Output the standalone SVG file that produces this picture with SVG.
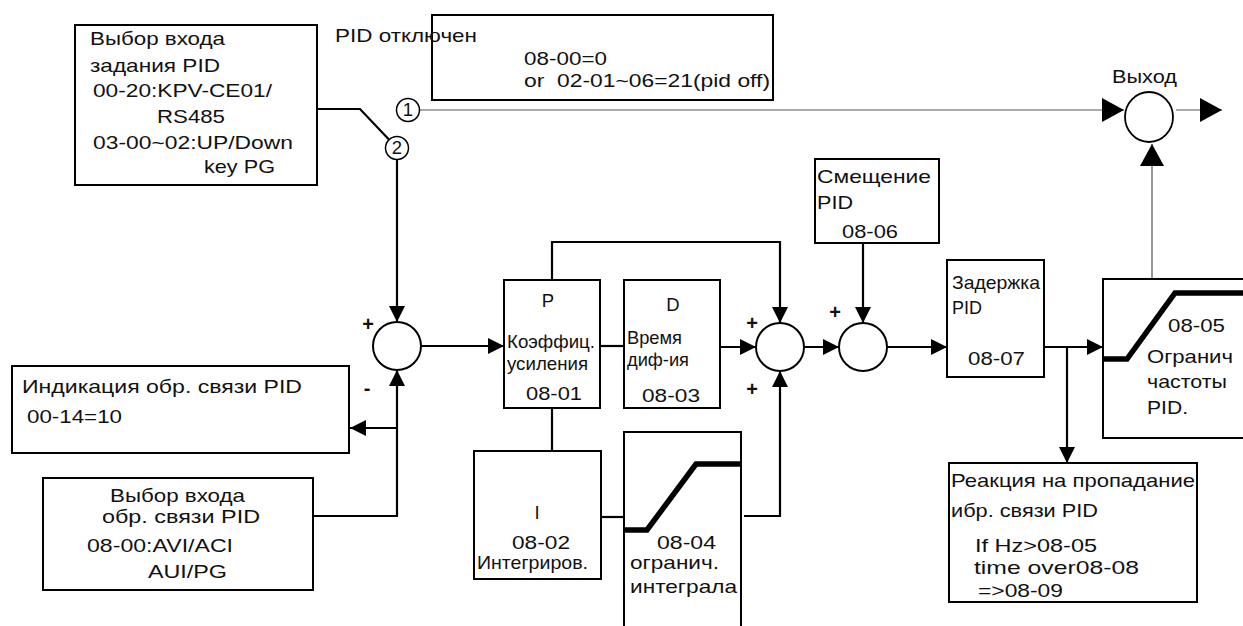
<svg xmlns="http://www.w3.org/2000/svg" width="1243" height="626" viewBox="0 0 1243 626">
<defs>
<marker id="arr" markerUnits="userSpaceOnUse" markerWidth="16" markerHeight="16" refX="16" refY="8" orient="auto"><path d="M0,0 L16,8 L0,16 z" fill="#000"/></marker>
<marker id="arrBig" markerUnits="userSpaceOnUse" markerWidth="22" markerHeight="24" refX="22" refY="12" orient="auto"><path d="M0,0 L22,12 L0,24 z" fill="#000"/></marker>
</defs>
<style>
text{font-family:"Liberation Sans",Arial,sans-serif;fill:#111;font-size:18.5px}
.box{fill:#fff;stroke:#000;stroke-width:2}
.c{fill:#fff;stroke:#000;stroke-width:2}
.w{fill:none;stroke:#000;stroke-width:2.2}
.thin{fill:none;stroke:#555;stroke-width:1.2}
.curve{fill:none;stroke:#000;stroke-width:5.5}
.sign{font-weight:bold;font-size:20px}
.mid{text-anchor:middle}
</style>
<rect width="1243" height="626" fill="#fff"/>

<g id="connectors">
<polyline class="w" points="317,109 360,109 388.7,139.3"/>
<line class="w" x1="397" y1="160" x2="397" y2="322" marker-end="url(#arr)"/>
<line class="w" x1="421" y1="346" x2="504" y2="346" marker-end="url(#arr)"/>
<polyline class="w" points="552,280 552,242 780,242 780,323" marker-end="url(#arr)"/>
<line class="w" x1="600" y1="346" x2="624" y2="346"/>
<line class="w" x1="720" y1="347" x2="756" y2="347" marker-end="url(#arr)"/>
<line class="w" x1="552" y1="408" x2="552" y2="451"/>
<line class="w" x1="601" y1="517" x2="624" y2="517"/>
<polyline class="w" points="744,516 780,516 780,371" marker-end="url(#arr)"/>
<line class="w" x1="804" y1="347" x2="839" y2="347" marker-end="url(#arr)"/>
<line class="w" x1="863" y1="243" x2="863" y2="323" marker-end="url(#arr)"/>
<line class="w" x1="887" y1="347" x2="947" y2="347" marker-end="url(#arr)"/>
<line class="w" x1="1044" y1="347" x2="1103" y2="347" marker-end="url(#arr)"/>
<line class="w" x1="1067" y1="347" x2="1067" y2="463" marker-end="url(#arr)"/>
<line class="thin" x1="1152" y1="279" x2="1152" y2="144" marker-end="url(#arrBig)"/>
<line class="thin" x1="420" y1="110" x2="1124" y2="110" marker-end="url(#arrBig)"/>
<line class="thin" x1="1176" y1="110" x2="1222" y2="110" marker-end="url(#arrBig)"/>
<polyline class="w" points="313,516 397,516 397,370" marker-end="url(#arr)"/>
<line class="w" x1="397" y1="428" x2="350" y2="428" marker-end="url(#arr)"/>
</g>

<g id="ref-input">
<rect class="box" x="75" y="25" width="242" height="160"/>
<text x="90" y="45" textLength="135" lengthAdjust="spacingAndGlyphs">Выбор входа</text>
<text x="90" y="72" textLength="130" lengthAdjust="spacingAndGlyphs">задания PID</text>
<text x="93" y="97" textLength="179" lengthAdjust="spacingAndGlyphs">00-20:KPV-CE01/</text>
<text x="157" y="123" textLength="68" lengthAdjust="spacingAndGlyphs">RS485</text>
<text x="93" y="149" textLength="200" lengthAdjust="spacingAndGlyphs">03-00~02:UP/Down</text>
<text x="204" y="173" textLength="71" lengthAdjust="spacingAndGlyphs">key PG</text>
</g>

<g id="pid-off">
<rect class="box" x="432" y="15" width="341" height="85"/>
<text x="335" y="42" textLength="142" lengthAdjust="spacingAndGlyphs">PID отключен</text>
<text x="524" y="65" textLength="83" lengthAdjust="spacingAndGlyphs">08-00=0</text>
<text x="524" y="87" textLength="246" lengthAdjust="spacingAndGlyphs" xml:space="preserve">or  02-01~06=21(pid off)</text>
</g>

<g id="switch1">
<circle cx="408" cy="110" r="11.5" fill="#fff" stroke="#000" stroke-width="1.5"/>
<text class="mid" x="408" y="116" font-size="16">1</text>
</g>
<g id="switch2">
<circle cx="397" cy="148" r="11.5" fill="#fff" stroke="#000" stroke-width="1.5"/>
<text class="mid" x="397" y="154" font-size="16">2</text>
</g>

<g id="sum1">
<circle class="c" cx="397" cy="346" r="24"/>
<text class="sign mid" x="368" y="331">+</text>
<text class="sign mid" x="367" y="395">-</text>
</g>

<g id="indication">
<rect class="box" x="12" y="366" width="337" height="87"/>
<text x="22" y="393" textLength="280" lengthAdjust="spacingAndGlyphs">Индикация обр. связи PID</text>
<text x="27" y="423" textLength="95" lengthAdjust="spacingAndGlyphs">00-14=10</text>
</g>

<g id="fb-input">
<rect class="box" x="43" y="478" width="270" height="112" stroke-width="2.5"/>
<text x="110" y="502" font-size="19.5" textLength="135" lengthAdjust="spacingAndGlyphs">Выбор входа</text>
<text x="102" y="523" font-size="19.5" textLength="158" lengthAdjust="spacingAndGlyphs">обр. связи PID</text>
<text x="87" y="552" textLength="146" lengthAdjust="spacingAndGlyphs">08-00:AVI/ACI</text>
<text x="148" y="578" textLength="79" lengthAdjust="spacingAndGlyphs">AUI/PG</text>
</g>

<g id="P">
<rect class="box" x="504" y="280" width="96" height="128" stroke-width="1.8"/>
<text class="mid" x="548" y="307" font-size="19">P</text>
<text x="507" y="348" font-size="17.5" textLength="88" lengthAdjust="spacingAndGlyphs">Коэффиц.</text>
<text x="507" y="370" font-size="17.5" textLength="81" lengthAdjust="spacingAndGlyphs">усиления</text>
<text x="526" y="400" font-size="22" textLength="56" lengthAdjust="spacingAndGlyphs">08-01</text>
</g>

<g id="D">
<rect class="box" x="624" y="280" width="96" height="128" stroke-width="2.5"/>
<text class="mid" x="673" y="311" font-size="20">D</text>
<text x="627" y="344" font-size="17.5" textLength="55" lengthAdjust="spacingAndGlyphs">Время</text>
<text x="627" y="366" font-size="17.5" textLength="62" lengthAdjust="spacingAndGlyphs">диф-ия</text>
<text x="642" y="402" font-size="22" textLength="58" lengthAdjust="spacingAndGlyphs">08-03</text>
</g>

<g id="I">
<rect class="box" x="474" y="451" width="127" height="128"/>
<text class="mid" x="537" y="519" font-size="20">I</text>
<text x="512" y="549" font-size="20" textLength="58" lengthAdjust="spacingAndGlyphs">08-02</text>
<text x="477" y="569" font-size="19" textLength="111" lengthAdjust="spacingAndGlyphs">Интегриров.</text>
</g>

<g id="int-limit">
<rect class="box" x="624" y="432" width="117" height="210"/>
<polyline class="curve" points="624,530 647,530 696,464 741,464"/>
<text x="657" y="549" font-size="20" textLength="59" lengthAdjust="spacingAndGlyphs">08-04</text>
<text x="630" y="569" font-size="19" textLength="89" lengthAdjust="spacingAndGlyphs">огранич.</text>
<text x="630" y="593" font-size="19" textLength="107" lengthAdjust="spacingAndGlyphs">интеграла</text>
</g>

<g id="sum2">
<circle class="c" cx="780" cy="347" r="24"/>
<text class="sign mid" x="752" y="330">+</text>
<text class="sign mid" x="752" y="396">+</text>
</g>

<g id="offset">
<rect class="box" x="815" y="159" width="124" height="84" stroke-width="3"/>
<text x="817" y="183" textLength="114" lengthAdjust="spacingAndGlyphs">Смещение</text>
<text x="817" y="209" textLength="36" lengthAdjust="spacingAndGlyphs">PID</text>
<text x="842" y="238" textLength="56" lengthAdjust="spacingAndGlyphs">08-06</text>
</g>

<g id="sum3">
<circle class="c" cx="863" cy="347" r="24"/>
<text class="sign mid" x="835" y="319">+</text>
</g>

<g id="delay">
<rect class="box" x="947" y="260" width="97" height="117" stroke-width="1.6"/>
<text x="952" y="289" font-size="19" textLength="88" lengthAdjust="spacingAndGlyphs">Задержка</text>
<text x="952" y="314" font-size="19" textLength="30" lengthAdjust="spacingAndGlyphs">PID</text>
<text x="968" y="365" textLength="57" lengthAdjust="spacingAndGlyphs">08-07</text>
</g>

<g id="freq-limit">
<rect class="box" x="1103" y="279" width="160" height="159" stroke-width="3"/>
<polyline class="curve" points="1103,359 1127,359 1175,293 1243,293"/>
<text x="1168" y="332" font-size="18" textLength="57" lengthAdjust="spacingAndGlyphs">08-05</text>
<text x="1147" y="363" font-size="18" textLength="86" lengthAdjust="spacingAndGlyphs">Огранич</text>
<text x="1147" y="388" font-size="18" textLength="80" lengthAdjust="spacingAndGlyphs">частоты</text>
<text x="1147" y="414" font-size="18" textLength="41" lengthAdjust="spacingAndGlyphs">PID.</text>
</g>

<g id="fb-loss">
<rect class="box" x="949" y="463" width="248" height="139"/>
<text x="951" y="487" font-size="17.5" textLength="244" lengthAdjust="spacingAndGlyphs">Реакция на пропадание</text>
<text x="951" y="517" font-size="17.5" textLength="147" lengthAdjust="spacingAndGlyphs">ибр. связи PID</text>
<text x="975" y="552" font-size="17.5" textLength="122" lengthAdjust="spacingAndGlyphs">If Hz&gt;08-05</text>
<text x="974" y="574" font-size="17.5" textLength="165" lengthAdjust="spacingAndGlyphs">time over08-08</text>
<text x="978" y="597" font-size="17.5" textLength="85" lengthAdjust="spacingAndGlyphs">=&gt;08-09</text>
</g>

<g id="output">
<ellipse cx="1149" cy="117" rx="24" ry="25" fill="#fff" stroke="#000" stroke-width="1.8"/>
<text x="1112" y="83" textLength="65" lengthAdjust="spacingAndGlyphs">Выход</text>
</g>
</svg>
